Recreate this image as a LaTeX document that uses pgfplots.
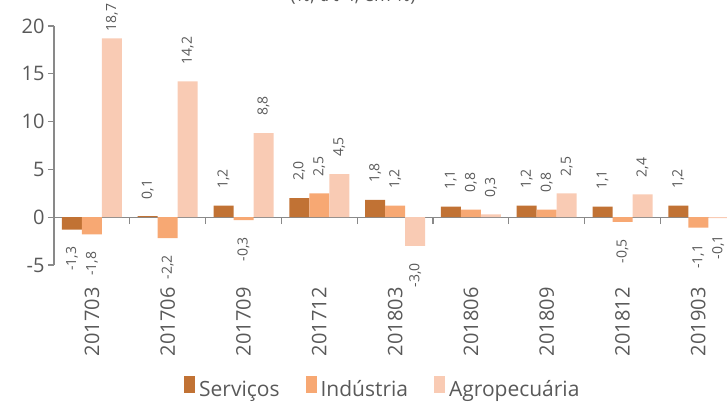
\documentclass[border=0pt]{standalone}
\usepackage{pgfplots}
\pgfplotsset{compat=1.18}
\usepackage{fontspec}
\setmainfont{Open Sans}

\definecolor{servicos}{RGB}{193,114,52}
\definecolor{industria}{RGB}{247,168,115}
\definecolor{agro}{RGB}{249,203,180}
\definecolor{txt}{RGB}{89,89,89}
\definecolor{axgray}{RGB}{137,137,137}

% G = gap between an Agropecuária bar and its label
\pgfplotstableread{
idx S I A G
0 -1.3 -1.8 18.7 7
1 0.1 -2.2 14.2 17
2 1.2 -0.3 8.8 17
3 2.0 2.5 4.5 17
4 1.8 1.2 -3.0 17
5 1.1 0.8 0.3 17
6 1.2 0.8 2.5 17
7 1.1 -0.5 2.4 17
8 1.2 -1.1 -0.1 17
}\datatable

\begin{document}
\begin{tikzpicture}
\begin{axis}[
  x=75.8pt, y=9.56pt,
  xmin=-0.5, xmax=8.5, ymin=-5, ymax=20,
  axis x line=middle, axis y line=left,
  axis line style={-, draw=axgray, line width=1.2pt},
  every tick/.style={draw=axgray, line width=1.2pt},
  ybar=0pt, bar width=20pt,
  xtick={0,...,8},
  xticklabels={201703,201706,201709,201712,201803,201806,201809,201812,201903},
  major x tick style={draw=none},
  minor xtick={0.5,1.5,...,7.5},
  minor tick length=7pt,
  xtick align=outside,
  xticklabel shift=64pt,
  xticklabel style={rotate=90, anchor=east, inner sep=0pt,
    font=\fontsize{20}{20}\selectfont, text=txt},
  ytick={-5,0,5,10,15,20},
  ytick align=outside, major tick length=6pt,
  yticklabel style={font=\fontsize{20}{20}\selectfont, text=txt},
  /pgf/number format/assume math mode=true,
  nodes near coords,
  visualization depends on={y \as \rawy},
  nodes near coords style={font=\fontsize{14}{14}\selectfont, text=txt,
    rotate=90, inner sep=0pt, inner xsep=17pt,
    /pgf/number format/.cd, fixed, fixed zerofill, precision=1, use comma,
    assume math mode=true, /tikz/.cd,
    anchor=\ifdim\rawy pt<0pt east\else west\fi},
  legend style={at={(rel axis cs:0.482,-0.515)}, anchor=center, draw=none,
    fill=none, font=\fontsize{21}{21}\selectfont, text=txt,
    legend columns=3,
    nodes={inner xsep=2pt},
    /tikz/every odd column/.append style={column sep=2pt},
    /tikz/every even column/.append style={column sep=24pt}},
  legend image code/.code={\fill[#1] (0pt,-3pt) rectangle (11pt,14pt);},
  clip=false,
]
\addplot[fill=servicos, draw=none, bar shift=-20pt] table[x=idx, y=S] {\datatable};
\addplot[fill=industria, draw=none, bar shift=0pt] table[x=idx, y=I] {\datatable};
\addplot[fill=agro, draw=none, bar shift=20pt,
  visualization depends on={\thisrow{G} \as \gap},
  nodes near coords style={inner xsep=\gap pt}] table[x=idx, y=A] {\datatable};
\legend{Serviços, Indústria, Agropecuária}
\end{axis}
\node[anchor=base, font=\fontsize{18}{18}\selectfont, text=txt] at (299pt,263pt) {(\%, t/t-4, em \%)};
\pgfresetboundingbox
\path[use as bounding box] (-54pt,-138pt) rectangle (673pt,265pt);
\end{tikzpicture}
\end{document}
